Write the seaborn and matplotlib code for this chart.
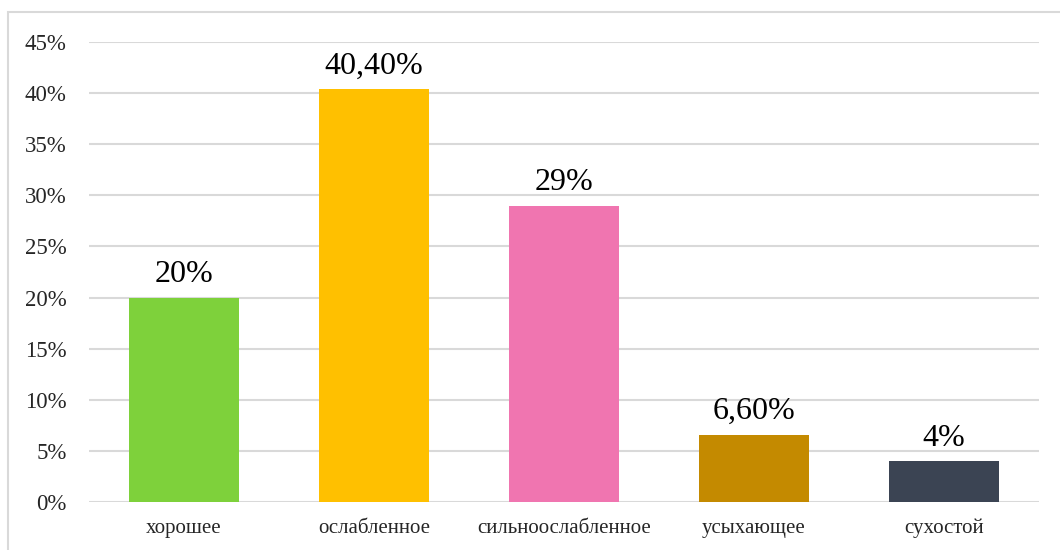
import matplotlib
matplotlib.use("Agg")
import matplotlib.pyplot as plt
import seaborn as sns
import pandas as pd
from matplotlib.patches import Rectangle

categories = ["хорошее", "ослабленное", "сильноослабленное", "усыхающее", "сухостой"]
values = [20.0, 40.4, 29.0, 6.6, 4.0]
value_labels = ["20%", "40,40%", "29%", "6,60%", "4%"]
colors = ["#7ED13B", "#FFC000", "#F075B0", "#C48A00", "#3B4453"]
yticks = [0, 5, 10, 15, 20, 25, 30, 35, 40, 45]

sns.set_theme(style="white")
plt.rcParams["font.family"] = ["Liberation Serif", "DejaVu Serif"]

df = pd.DataFrame({"cat": categories, "val": values})

fig = plt.figure(figsize=(10.6, 5.5), dpi=100)
ax = fig.add_axes([89/1060, 1-502/550, 950/1060, 460/550])

sns.barplot(data=df, x="cat", y="val", hue="cat", palette=colors, legend=False,
            width=110/190, ax=ax, saturation=1, linewidth=0, edgecolor="none")

ax.set_ylim(0, 45)
ax.set_xlim(-0.5, 4.5)
ax.set_yticks(yticks)
ax.set_yticklabels([f"{t}%" for t in yticks], fontsize=16.5)
ax.tick_params(axis="x", labelsize=15, length=0, pad=12)
ax.tick_params(axis="y", length=0, pad=16)
ax.set_xlabel("")
ax.set_ylabel("")
for s in ax.spines.values():
    s.set_visible(False)
ax.yaxis.grid(True, color="#D9D9D9", linewidth=1.5)
ax.set_axisbelow(True)

for i, (v, lab) in enumerate(zip(values, value_labels)):
    ax.annotate(lab, (i, v), xytext=(0, 6), textcoords="offset points",
                ha="center", va="bottom", fontsize=23, color="#000000")

fig.patches.append(Rectangle((8/1060, -0.1), 1.2, 1 - 12/550 + 0.1,
                             transform=fig.transFigure, fill=False,
                             edgecolor="#D9D9D9", linewidth=1.5))

fig.savefig("out.png", dpi=100)
